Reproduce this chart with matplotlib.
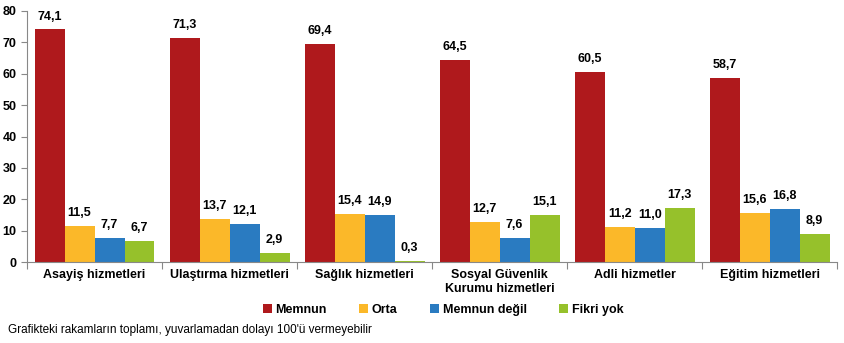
import numpy as np
import matplotlib
matplotlib.use("Agg")
import matplotlib.pyplot as plt

plt.rcParams['font.family'] = ['Liberation Sans', 'DejaVu Sans']

categories = ["Asayiş hizmetleri", "Ulaştırma hizmetleri", "Sağlık hizmetleri",
              "Sosyal Güvenlik\nKurumu hizmetleri", "Adli hizmetler", "Eğitim hizmetleri"]
series_names = ["Memnun", "Orta", "Memnun değil", "Fikri yok"]
memnun = [74.1, 71.3, 69.4, 64.5, 60.5, 58.7]
orta = [11.5, 13.7, 15.4, 12.7, 11.2, 15.6]
memnun_degil = [7.7, 12.1, 14.9, 7.6, 11.0, 16.8]
fikri_yok = [6.7, 2.9, 0.3, 15.1, 17.3, 8.9]
colors = ["#AF191C", "#FBB829", "#2A7BC1", "#96C12B"]

fig = plt.figure(figsize=(8.44, 3.43), dpi=100)
ax = fig.add_axes([0.032, 0.236, 0.960, 0.732])

x = np.arange(len(categories))
w = 0.222
for i, (name, vals) in enumerate(zip(series_names, [memnun, orta, memnun_degil, fikri_yok])):
    pos = x + (i - 1.5) * w
    ax.bar(pos, vals, width=w, color=colors[i], label=name)
    for p, v in zip(pos, vals):
        ax.text(p, v + 2.2, f"{v:.1f}".replace(".", ","), ha="center", va="bottom",
                fontsize=9, fontweight="bold")

ax.set_xlim(-0.5, len(categories) - 0.5)
ax.set_ylim(0, 80)
ax.set_yticks(range(0, 81, 10))
ax.set_xticks(np.arange(-0.5, len(categories), 1))
ax.set_xticklabels([])
ax.set_xticks(x, minor=True)
ax.set_xticklabels(categories, minor=True, fontsize=9, fontweight="bold")
ax.tick_params(axis="x", which="minor", length=0, pad=5)
ax.tick_params(axis="x", which="major", length=5, color="#888888")
ax.tick_params(axis="y", labelsize=9, length=4, color="#888888")
for t in ax.get_yticklabels():
    t.set_fontweight("bold")
ax.spines["top"].set_visible(False)
ax.spines["right"].set_visible(False)
ax.spines["left"].set_color("#888888")
ax.spines["bottom"].set_color("#888888")

fig.legend(loc="center", bbox_to_anchor=(0.525, 0.097), ncol=4, frameon=False,
           handlelength=0.7, handleheight=0.7, handletextpad=0.3, columnspacing=2.6,
           prop={"size": 9, "weight": "bold"})
fig.text(0.009, 0.038, "Grafikteki rakamların toplamı, yuvarlamadan dolayı 100'ü vermeyebilir",
         fontsize=8.5, ha="left", va="center")

fig.savefig("out.png", dpi=100)
